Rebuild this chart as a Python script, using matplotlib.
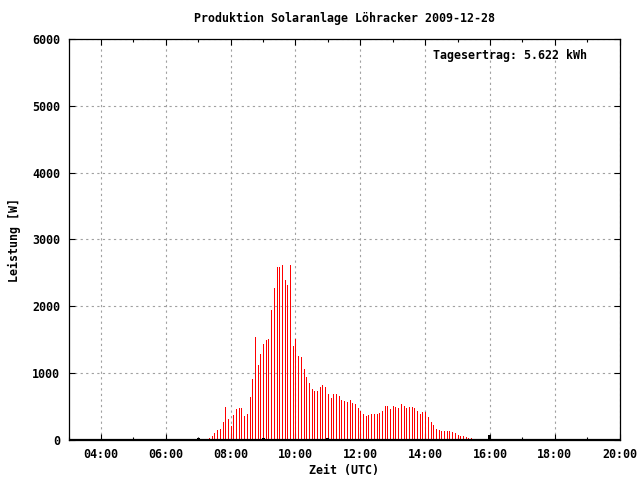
import numpy as np
import pandas as pd
import matplotlib
matplotlib.use("Agg")
import matplotlib.pyplot as plt
from matplotlib.ticker import MultipleLocator, FuncFormatter

# 5-minute power readings [W], 07:05 .. 15:40 UTC
start_time = "07:05"
step_minutes = 5
power = [
    15, 15, 15, 35, 60, 105, 150, 165, 270, 495, 315,            # 07:05-07:55
    210, 375, 465, 480, 480, 360, 390, 645, 915, 1540, 1120, 1290,  # 08:00-08:55
    1435, 1495, 1510, 1945, 2275, 2590, 2590, 2620, 2395, 2320, 2620, 1405,  # 09
    1510, 1255, 1240, 1060, 940, 855, 765, 735, 735, 795, 825, 795,  # 10
    690, 630, 690, 690, 660, 600, 585, 570, 600, 555, 540, 480,      # 11
    435, 390, 360, 375, 390, 390, 390, 405, 435, 510, 510, 465,      # 12
    510, 495, 480, 540, 510, 480, 495, 495, 480, 435, 390, 420,      # 13
    420, 345, 270, 225, 165, 150, 135, 135, 135, 135, 120, 105,      # 14
    75, 60, 60, 45, 30, 30, 20, 15, 15,                              # 15:00-15:40
]
# second series (black impulses)
black_times = ["07:00", "08:59", "10:59", "15:59"]
black_power = [30, 30, 30, 75]

title = "Produktion Solaranlage Löhracker 2009-12-28"
daily_yield = "Tagesertrag: 5.622 kWh"


def to_hours(ts):
    return ts.hour + ts.minute / 60.0


times = pd.date_range("2009-12-28 " + start_time, periods=len(power),
                      freq=f"{step_minutes}min")
x_red = np.array([to_hours(t) for t in times])
x_black = np.array([to_hours(pd.Timestamp("2009-12-28 " + t)) for t in black_times])

font = {"family": "DejaVu Sans Mono", "weight": "bold", "size": 8.4}
plt.rcParams["font.family"] = "DejaVu Sans Mono"
plt.rcParams["font.weight"] = "bold"

fig = plt.figure(figsize=(6.4, 4.8), dpi=100)
ax = fig.add_axes([68.6 / 640, 40 / 480, 551 / 640, 401 / 480])

ax.vlines(x_red, 0, power, colors="#ff0000", linewidth=0.6,
          antialiased=False, zorder=3)
ax.vlines(x_black, 0, black_power, colors="black", linewidth=0.9,
          antialiased=False, zorder=3)
ax.axhline(0, color="black", linewidth=1.6, zorder=4)

ax.set_xlim(3, 20)
ax.set_ylim(0, 6000)
ax.xaxis.set_major_locator(MultipleLocator(2))
ax.xaxis.set_minor_locator(MultipleLocator(1))
ax.yaxis.set_major_locator(MultipleLocator(1000))
ax.xaxis.set_major_formatter(FuncFormatter(lambda v, p: "%02d:00" % int(round(v))))

ax.tick_params(which="both", direction="in", top=True, right=True, width=0.8)
ax.tick_params(which="major", length=4.3)
ax.tick_params(which="minor", length=2.2)
ax.tick_params(axis="y", pad=6, labelsize=8.4)
ax.tick_params(axis="x", pad=6, labelsize=8.4)
for lab in ax.get_xticklabels() + ax.get_yticklabels():
    lab.set_fontweight("bold")

ax.grid(True, which="major", color="#a0a0a0", linestyle=(0, (2, 3)), linewidth=0.8)
ax.set_axisbelow(True)
for sp in ax.spines.values():
    sp.set_linewidth(0.9)

ax.set_xlabel("Zeit (UTC)", fontdict=font, labelpad=2)
ax.set_ylabel("Leistung [W]", fontdict=font, labelpad=8)
fig.text(0.5375, 1 - 18 / 480, title, ha="center", va="center", fontdict=font)
ax.text(0.661, 0.958, daily_yield, transform=ax.transAxes, ha="left", va="center",
        fontdict=font)

fig.savefig("out.png", dpi=100)
